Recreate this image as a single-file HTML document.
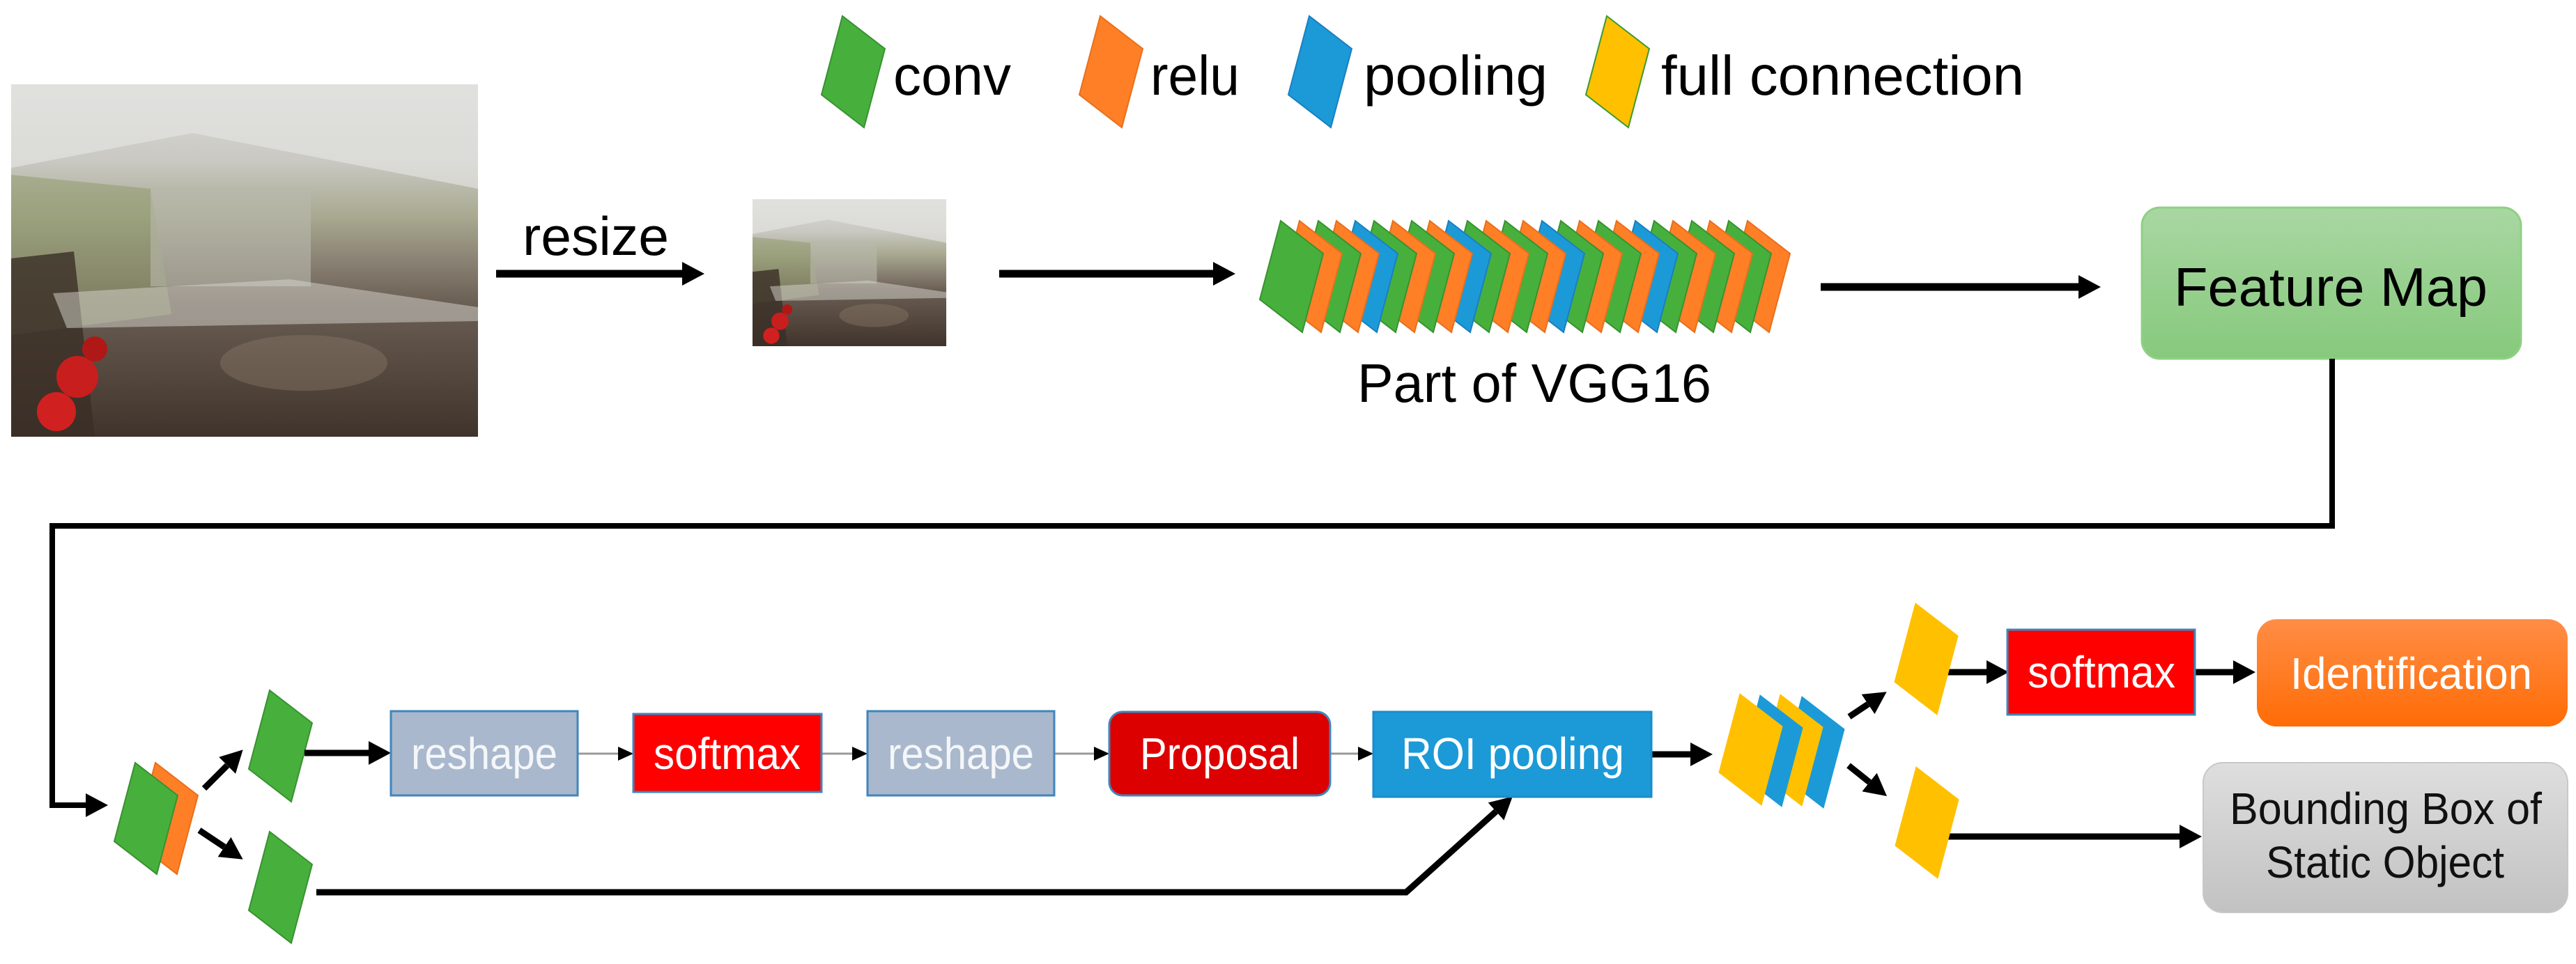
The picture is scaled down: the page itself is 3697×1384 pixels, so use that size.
<!DOCTYPE html>
<html><head><meta charset="utf-8"><style>
html,body{margin:0;padding:0;background:#fff;}
svg{display:block;}
text{font-family:"Liberation Sans",sans-serif;}
</style></head><body>
<svg width="3697" height="1384" viewBox="0 0 3697 1384" xmlns="http://www.w3.org/2000/svg">
<defs>
<polygon id="p" points="0,0 61,47 31,160 -30,113"/>
<marker id="ah" markerUnits="userSpaceOnUse" markerWidth="40" markerHeight="40" viewBox="0 -20 40 40" refX="0" refY="0" orient="auto"><path d="M0,-17 L32,0 L0,17z" fill="#000"/></marker>
<marker id="as" markerUnits="userSpaceOnUse" markerWidth="30" markerHeight="30" viewBox="0 -15 30 30" refX="0" refY="0" orient="auto"><path d="M0,-10 L22,0 L0,10z" fill="#000"/></marker>
<linearGradient id="fm" x1="0" y1="0" x2="0" y2="1"><stop offset="0" stop-color="#a9d7a2"/><stop offset="1" stop-color="#86c97c"/></linearGradient>
<linearGradient id="idg" x1="0" y1="0" x2="0" y2="1"><stop offset="0" stop-color="#ff8d46"/><stop offset="1" stop-color="#ff6c06"/></linearGradient>
<linearGradient id="bbg" x1="0" y1="0" x2="0" y2="1"><stop offset="0" stop-color="#dedede"/><stop offset="1" stop-color="#c2c2c2"/></linearGradient>
<linearGradient id="ph" x1="0" y1="0" x2="0" y2="1"><stop offset="0" stop-color="#dcdcda"/><stop offset="0.22" stop-color="#c9c8c2"/><stop offset="0.38" stop-color="#a7a88f"/><stop offset="0.5" stop-color="#8a8274"/><stop offset="0.62" stop-color="#6b5f54"/><stop offset="1" stop-color="#3f332b"/></linearGradient>
<g id="photo">
<rect x="0" y="0" width="670" height="506" fill="url(#ph)"/>
<polygon points="0,120 260,70 670,150 670,0 0,0" fill="#e2e2e0" opacity="0.7"/>
<polygon points="0,130 200,150 230,330 0,360" fill="#8f9a6e" opacity="0.55"/>
<rect x="200" y="150" width="230" height="140" fill="#b9b9ad" opacity="0.6"/>
<polygon points="0,250 90,240 120,506 0,506" fill="#3a2e26" opacity="0.8"/>
<polygon points="60,300 400,280 670,320 670,340 80,350" fill="#d8d6d0" opacity="0.5"/>
<circle cx="95" cy="420" r="30" fill="#c81e1e"/><circle cx="65" cy="470" r="28" fill="#d02020"/><circle cx="120" cy="380" r="18" fill="#b01818"/>
<ellipse cx="420" cy="400" rx="120" ry="40" fill="#8c7a6a" opacity="0.4"/>
</g>
</defs>

<!-- legend -->
<use href="#p" x="1209" y="23" fill="#47b03d" stroke="#389130" stroke-width="2"/>
<use href="#p" x="1579" y="23" fill="#ff7f27" stroke="#e86f1a" stroke-width="2"/>
<use href="#p" x="1879" y="23" fill="#1b9ad7" stroke="#1a7fc0" stroke-width="2"/>
<use href="#p" x="2306" y="23" fill="#ffc000" stroke="#3a9a30" stroke-width="2"/>
<g font-size="80" fill="#000">
<text x="1282" y="136" textLength="169" lengthAdjust="spacingAndGlyphs">conv</text>
<text x="1651" y="136" textLength="128" lengthAdjust="spacingAndGlyphs">relu</text>
<text x="1957" y="136" textLength="264" lengthAdjust="spacingAndGlyphs">pooling</text>
<text x="2384" y="136" textLength="521" lengthAdjust="spacingAndGlyphs">full connection</text>
</g>

<!-- photos -->
<g transform="translate(16,121)"><use href="#photo"/></g>
<g transform="translate(1080,286) scale(0.415,0.417)"><use href="#photo"/></g>
<text x="750" y="366" font-size="78" textLength="210" lengthAdjust="spacingAndGlyphs">resize</text>

<!-- top arrows -->
<g stroke="#000" stroke-width="11" fill="none" marker-end="url(#ah)">
<line x1="712" y1="393" x2="979" y2="393"/>
<line x1="1434" y1="393" x2="1741" y2="393"/>
<line x1="2613" y1="412" x2="2983" y2="412"/>
</g>

<!-- VGG stack (drawn back to front) -->
<g stroke-width="2">
<use href="#p" x="2508" y="317" fill="#ff7f27" stroke="#e86f1a"/>
<use href="#p" x="2481" y="317" fill="#47b03d" stroke="#389130"/>
<use href="#p" x="2454" y="317" fill="#ff7f27" stroke="#e86f1a"/>
<use href="#p" x="2428" y="317" fill="#47b03d" stroke="#389130"/>
<use href="#p" x="2401" y="317" fill="#ff7f27" stroke="#e86f1a"/>
<use href="#p" x="2374" y="317" fill="#47b03d" stroke="#389130"/>
<use href="#p" x="2347" y="317" fill="#1b9ad7" stroke="#1a7fc0"/>
<use href="#p" x="2320" y="317" fill="#ff7f27" stroke="#e86f1a"/>
<use href="#p" x="2294" y="317" fill="#47b03d" stroke="#389130"/>
<use href="#p" x="2267" y="317" fill="#ff7f27" stroke="#e86f1a"/>
<use href="#p" x="2240" y="317" fill="#47b03d" stroke="#389130"/>
<use href="#p" x="2213" y="317" fill="#1b9ad7" stroke="#1a7fc0"/>
<use href="#p" x="2186" y="317" fill="#ff7f27" stroke="#e86f1a"/>
<use href="#p" x="2160" y="317" fill="#47b03d" stroke="#389130"/>
<use href="#p" x="2133" y="317" fill="#ff7f27" stroke="#e86f1a"/>
<use href="#p" x="2106" y="317" fill="#47b03d" stroke="#389130"/>
<use href="#p" x="2079" y="317" fill="#1b9ad7" stroke="#1a7fc0"/>
<use href="#p" x="2052" y="317" fill="#ff7f27" stroke="#e86f1a"/>
<use href="#p" x="2026" y="317" fill="#47b03d" stroke="#389130"/>
<use href="#p" x="1999" y="317" fill="#ff7f27" stroke="#e86f1a"/>
<use href="#p" x="1972" y="317" fill="#47b03d" stroke="#389130"/>
<use href="#p" x="1945" y="317" fill="#1b9ad7" stroke="#1a7fc0"/>
<use href="#p" x="1918" y="317" fill="#ff7f27" stroke="#e86f1a"/>
<use href="#p" x="1892" y="317" fill="#47b03d" stroke="#389130"/>
<use href="#p" x="1865" y="317" fill="#ff7f27" stroke="#e86f1a"/>
<use href="#p" x="1838" y="317" fill="#47b03d" stroke="#389130"/>
</g>
<text x="1948" y="577" font-size="78" textLength="508" lengthAdjust="spacingAndGlyphs">Part of VGG16</text>

<!-- Feature Map -->
<rect x="3074" y="298" width="544" height="217" rx="26" fill="url(#fm)" stroke="#8fd084" stroke-width="3"/>
<text x="3120" y="439" font-size="78" textLength="450" lengthAdjust="spacingAndGlyphs">Feature Map</text>

<!-- big connector -->
<polyline points="3347,515 3347,755 75,755 75,1156 123,1156" fill="none" stroke="#000" stroke-width="8" marker-end="url(#ah)"/>

<!-- bottom-left stack -->
<use href="#p" x="223" y="1095" fill="#ff7f27" stroke="#e86f1a" stroke-width="2"/>
<use href="#p" x="194" y="1095" fill="#47b03d" stroke="#389130" stroke-width="2"/>
<use href="#p" x="387" y="991" fill="#47b03d" stroke="#389130" stroke-width="2"/>
<use href="#p" x="387" y="1194" fill="#47b03d" stroke="#389130" stroke-width="2"/>

<g stroke="#000" stroke-width="9" fill="none" marker-end="url(#ah)">
<line x1="293" y1="1132" x2="326" y2="1099"/>
<line x1="286" y1="1192" x2="322" y2="1216"/>
<line x1="437" y1="1081" x2="529" y2="1081"/>
<polyline points="454,1281 2018,1281 2147,1165"/>
<line x1="2370" y1="1083" x2="2426" y2="1083"/>
<line x1="2654" y1="1029" x2="2681" y2="1011"/>
<line x1="2653" y1="1099" x2="2683" y2="1123"/>
<line x1="2791" y1="965" x2="2851" y2="965"/>
<line x1="3150" y1="965" x2="3205" y2="965"/>
<line x1="2793" y1="1201" x2="3128" y2="1201"/>
</g>
<g stroke="#9a9a9a" stroke-width="3" fill="none" marker-end="url(#as)">
<line x1="829" y1="1082" x2="887" y2="1082"/>
<line x1="1179" y1="1082" x2="1223" y2="1082"/>
<line x1="1513" y1="1082" x2="1570" y2="1082"/>
<line x1="1909" y1="1082" x2="1949" y2="1082"/>
</g>

<!-- boxes row -->
<rect x="561" y="1021" width="268" height="121" fill="#a9b8cc" stroke="#3f86bd" stroke-width="3"/>
<rect x="909" y="1025" width="270" height="112" fill="#ff0000" stroke="#3f86bd" stroke-width="3"/>
<rect x="1245" y="1021" width="268" height="121" fill="#a9b8cc" stroke="#3f86bd" stroke-width="3"/>
<rect x="1592" y="1022" width="317" height="120" rx="19" fill="#dd0000" stroke="#3f86bd" stroke-width="3"/>
<rect x="1971" y="1022" width="399" height="122" fill="#1b9ad7" stroke="#1b8ccc" stroke-width="3"/>
<g font-size="64" fill="#f4f6f9">
<text x="590" y="1104" textLength="210" lengthAdjust="spacingAndGlyphs">reshape</text>
<text x="938" y="1104" textLength="211" lengthAdjust="spacingAndGlyphs" fill="#fff">softmax</text>
<text x="1274" y="1104" textLength="210" lengthAdjust="spacingAndGlyphs">reshape</text>
<text x="1636" y="1104" textLength="229" lengthAdjust="spacingAndGlyphs" fill="#fff">Proposal</text>
<text x="2011" y="1104" textLength="320" lengthAdjust="spacingAndGlyphs" fill="#fff">ROI pooling</text>
</g>

<!-- right stack -->
<g stroke-width="1">
<use href="#p" x="2586" y="1000" fill="#1b9ad7" stroke="#1b9ad7"/>
<use href="#p" x="2555" y="997" fill="#ffc000" stroke="#ffc000"/>
<use href="#p" x="2526" y="998" fill="#1b9ad7" stroke="#1b9ad7"/>
<use href="#p" x="2497" y="996" fill="#ffc000" stroke="#ffc000"/>
<use href="#p" x="2749" y="866" fill="#ffc000" stroke="#ffc000"/>
<use href="#p" x="2750" y="1101" fill="#ffc000" stroke="#ffc000"/>
</g>

<rect x="2881" y="904" width="269" height="122" fill="#ff0000" stroke="#3f86bd" stroke-width="3"/>
<text x="2910" y="987" font-size="64" fill="#fff" textLength="212" lengthAdjust="spacingAndGlyphs">softmax</text>

<rect x="3239" y="889" width="446" height="154" rx="28" fill="url(#idg)"/>
<text x="3287" y="989" font-size="64" fill="#fff" textLength="347" lengthAdjust="spacingAndGlyphs">Identification</text>

<rect x="3162" y="1095" width="523" height="215" rx="28" fill="url(#bbg)" stroke="#c8c8c8" stroke-width="2"/>
<text x="3200" y="1183" font-size="64" fill="#111" textLength="448" lengthAdjust="spacingAndGlyphs">Bounding Box of</text>
<text x="3252" y="1260" font-size="64" fill="#111" textLength="342" lengthAdjust="spacingAndGlyphs">Static Object</text>
</svg>
</body></html>
